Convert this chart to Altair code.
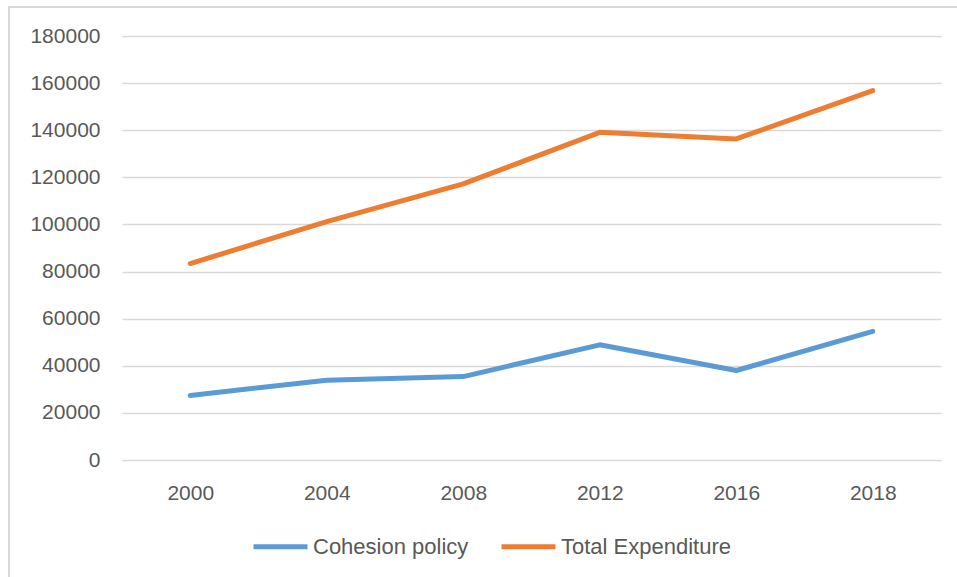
import altair as alt
import pandas as pd

# Series values by year
years = ["2000", "2004", "2008", "2012", "2016", "2018"]
cohesion_policy = [27400, 33900, 35400, 48900, 38000, 54600]
total_expenditure = [83400, 101200, 117200, 139100, 136300, 156800]
series_names = ["Cohesion policy", "Total Expenditure"]
series_colors = ["#5B9BD5", "#ED7D31"]
y_ticks = [0, 20000, 40000, 60000, 80000, 100000, 120000, 140000, 160000, 180000]

rows = []
for name, vals in zip(series_names, [cohesion_policy, total_expenditure]):
    for yr, v in zip(years, vals):
        rows.append({"year": yr, "value": v, "series": name})
df = pd.DataFrame(rows)

TEXT = "#595959"
FONT = "Liberation Sans"
W, H = 819, 424

lines = alt.Chart(df).mark_line(strokeWidth=5, strokeCap="round", strokeJoin="round").encode(
    x=alt.X("year:N", sort=years,
            scale=alt.Scale(type="point", padding=0.5),
            axis=alt.Axis(title=None, labelAngle=0, domain=False, ticks=False, tickSize=0,
                          labelPadding=22, grid=False)),
    y=alt.Y("value:Q", scale=alt.Scale(domain=[0, 180000], nice=False),
            axis=alt.Axis(title=None, values=y_ticks, domain=False, ticks=False, tickSize=0,
                          labelPadding=22, grid=True, gridColor="#D9D9D9", gridWidth=1.5,
                          format="d")),
    color=alt.Color("series:N", sort=series_names,
                    scale=alt.Scale(domain=series_names, range=series_colors),
                    legend=alt.Legend(title=None, orient="none", direction="horizontal",
                                      legendX=129, legendY=481,
                                      symbolType="stroke", symbolSize=2916,
                                      symbolStrokeWidth=5, labelOffset=3,
                                      columnPadding=22, labelFontSize=22,
                                      labelColor=TEXT, labelFont=FONT,
                                      labelLimit=400)),
)

# Outer chart frame
frame = alt.Chart(alt.Data(values=[{}])).mark_rect(
    fill=None, stroke="#D9D9D9", strokeWidth=2
).encode(
    x=alt.value(9 - 122), x2=alt.value(980 - 122),
    y=alt.value(7 - 36), y2=alt.value(600 - 36),
)

chart = alt.layer(frame, lines).properties(
    width=W, height=H,
    autosize=alt.AutoSizeParams(type="none"),
    padding={"left": 122, "top": 36, "right": 16, "bottom": 117},
    background="white",
).configure_view(stroke=None).configure_axis(
    labelFont=FONT, labelFontSize=21, labelColor=TEXT
)

chart.save("out.html", embed_options={"renderer": "svg", "actions": False})
